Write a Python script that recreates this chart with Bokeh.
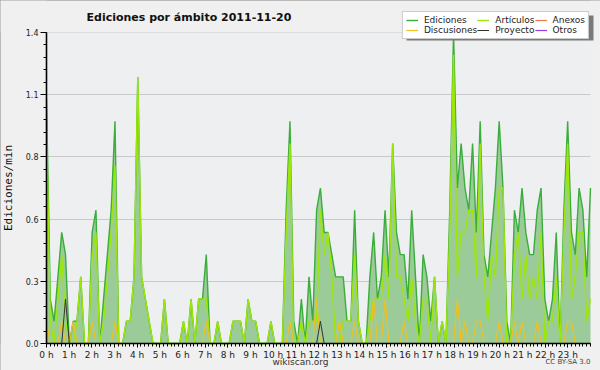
import numpy as np
from bokeh.plotting import figure
from bokeh.models import (FixedTicker, PrintfTickFormatter, Range1d, Legend,
                          LegendItem, Label, BoxAnnotation)
from bokeh.embed import file_html
from bokeh.resources import INLINE

# ---- data: edits per minute, 10-minute bins (6 per hour), 2011-11-20 ----
hour_labels = [f"{h} h" for h in range(24)]

ediciones = [
    1.1, 0.2, 0.1, 0.3, 0.5, 0.4,   # 0 h
    0.0, 0.1, 0.1, 0.3, 0.0, 0.0,   # 1 h
    0.5, 0.6, 0.0, 0.2, 0.4, 0.6,   # 2 h
    1.0, 0.0, 0.0, 0.1, 0.1, 0.3,   # 3 h
    1.2, 0.3, 0.2, 0.1, 0.0, 0.0,   # 4 h
    0.0, 0.2, 0.0, 0.0, 0.0, 0.0,   # 5 h
    0.1, 0.0, 0.2, 0.0, 0.2, 0.2,   # 6 h
    0.4, 0.0, 0.0, 0.1, 0.0, 0.0,   # 7 h
    0.0, 0.1, 0.1, 0.1, 0.0, 0.2,   # 8 h
    0.1, 0.1, 0.0, 0.0, 0.0, 0.1,   # 9 h
    0.0, 0.0, 0.0, 0.6, 1.0, 0.1,   # 10 h
    0.0, 0.2, 0.0, 0.3, 0.1, 0.6,   # 11 h
    0.7, 0.5, 0.5, 0.4, 0.3, 0.3,   # 12 h
    0.3, 0.1, 0.1, 0.6, 0.1, 0.0,   # 13 h
    0.0, 0.3, 0.5, 0.2, 0.3, 0.6,   # 14 h
    0.3, 0.9, 0.5, 0.4, 0.4, 0.2,   # 15 h
    0.6, 0.3, 0.0, 0.4, 0.3, 0.1,   # 16 h
    0.3, 0.0, 0.1, 0.0, 0.6, 1.4,   # 17 h
    0.7, 0.9, 0.7, 0.6, 0.9, 0.5,   # 18 h
    1.0, 0.4, 0.3, 0.5, 0.7, 1.0,   # 19 h
    0.7, 0.1, 0.0, 0.6, 0.5, 0.7,   # 20 h
    0.5, 0.4, 0.4, 0.6, 0.7, 0.2,   # 21 h
    0.1, 0.2, 0.5, 0.0, 0.6, 1.0,   # 22 h
    0.5, 0.4, 0.7, 0.6, 0.3, 0.7,   # 23 h
]

articulos = [
    1.0, 0.1, 0.0, 0.2, 0.4, 0.1,
    0.0, 0.0, 0.1, 0.3, 0.0, 0.0,
    0.4, 0.5, 0.0, 0.1, 0.3, 0.5,
    0.8, 0.0, 0.0, 0.1, 0.1, 0.3,
    1.2, 0.3, 0.2, 0.1, 0.0, 0.0,
    0.0, 0.2, 0.0, 0.0, 0.0, 0.0,
    0.1, 0.0, 0.2, 0.0, 0.2, 0.2,
    0.2, 0.0, 0.0, 0.1, 0.0, 0.0,
    0.0, 0.1, 0.1, 0.1, 0.0, 0.2,
    0.1, 0.1, 0.0, 0.0, 0.0, 0.1,
    0.0, 0.0, 0.0, 0.5, 0.9, 0.0,
    0.0, 0.1, 0.0, 0.1, 0.1, 0.1,
    0.6, 0.4, 0.5, 0.3, 0.0, 0.0,
    0.1, 0.1, 0.1, 0.4, 0.1, 0.0,
    0.0, 0.1, 0.2, 0.2, 0.2, 0.4,
    0.2, 0.9, 0.3, 0.3, 0.2, 0.1,
    0.3, 0.1, 0.0, 0.2, 0.2, 0.0,
    0.3, 0.0, 0.1, 0.0, 0.5, 1.3,
    0.3, 0.5, 0.5, 0.6, 0.6, 0.3,
    0.9, 0.3, 0.1, 0.4, 0.3, 0.7,
    0.7, 0.0, 0.0, 0.4, 0.5, 0.2,
    0.4, 0.2, 0.3, 0.2, 0.5, 0.0,
    0.1, 0.1, 0.3, 0.0, 0.5, 0.9,
    0.2, 0.3, 0.5, 0.5, 0.1, 0.2,
]

discusiones = [
    0.1, 0.0, 0.0, 0.0, 0.1, 0.0,
    0.0, 0.1, 0.0, 0.0, 0.0, 0.0,
    0.1, 0.0, 0.0, 0.0, 0.0, 0.0,
    0.1, 0.0, 0.0, 0.0, 0.0, 0.0,
    0.0, 0.0, 0.0, 0.0, 0.0, 0.0,
    0.0, 0.0, 0.0, 0.0, 0.0, 0.0,
    0.0, 0.0, 0.0, 0.0, 0.0, 0.0,
    0.1, 0.0, 0.0, 0.0, 0.0, 0.0,
    0.0, 0.0, 0.0, 0.0, 0.0, 0.0,
    0.0, 0.0, 0.0, 0.0, 0.0, 0.0,
    0.0, 0.0, 0.0, 0.0, 0.1, 0.0,
    0.0, 0.0, 0.0, 0.0, 0.0, 0.2,
    0.0, 0.0, 0.0, 0.0, 0.0, 0.1,
    0.0, 0.0, 0.0, 0.1, 0.0, 0.0,
    0.0, 0.0, 0.2, 0.0, 0.0, 0.2,
    0.0, 0.0, 0.0, 0.0, 0.1, 0.0,
    0.0, 0.0, 0.0, 0.0, 0.0, 0.0,
    0.0, 0.0, 0.0, 0.0, 0.0, 0.0,
    0.2, 0.0, 0.1, 0.0, 0.0, 0.1,
    0.1, 0.0, 0.0, 0.0, 0.0, 0.1,
    0.0, 0.0, 0.0, 0.1, 0.0, 0.1,
    0.0, 0.0, 0.0, 0.1, 0.0, 0.0,
    0.0, 0.0, 0.0, 0.0, 0.0, 0.1,
    0.1, 0.0, 0.0, 0.0, 0.0, 0.0,
]

proyecto = [
    0.0, 0.0, 0.0, 0.0, 0.0, 0.2,
    0.0, 0.0, 0.0, 0.0, 0.0, 0.0,
    0.0, 0.0, 0.0, 0.0, 0.0, 0.0,
    0.0, 0.0, 0.0, 0.0, 0.0, 0.0,
    0.0, 0.0, 0.0, 0.0, 0.0, 0.0,
    0.0, 0.0, 0.0, 0.0, 0.0, 0.0,
    0.0, 0.0, 0.0, 0.0, 0.0, 0.0,
    0.0, 0.0, 0.0, 0.0, 0.0, 0.0,
    0.0, 0.0, 0.0, 0.0, 0.0, 0.0,
    0.0, 0.0, 0.0, 0.0, 0.0, 0.0,
    0.0, 0.0, 0.0, 0.0, 0.0, 0.0,
    0.0, 0.0, 0.0, 0.0, 0.0, 0.0,
    0.1, 0.0, 0.0, 0.0, 0.0, 0.0,
    0.0, 0.0, 0.0, 0.0, 0.0, 0.0,
    0.0, 0.0, 0.0, 0.0, 0.0, 0.0,
    0.0, 0.0, 0.0, 0.0, 0.0, 0.0,
    0.0, 0.0, 0.0, 0.0, 0.0, 0.0,
    0.0, 0.0, 0.0, 0.0, 0.0, 0.0,
    0.0, 0.0, 0.0, 0.0, 0.0, 0.0,
    0.0, 0.0, 0.0, 0.0, 0.0, 0.0,
    0.0, 0.0, 0.0, 0.0, 0.0, 0.0,
    0.0, 0.0, 0.0, 0.0, 0.0, 0.0,
    0.0, 0.0, 0.0, 0.0, 0.0, 0.0,
    0.0, 0.0, 0.0, 0.0, 0.0, 0.0,
]

anexos = [0.0] * len(ediciones)   # nothing visible in the reference
otros = [0.0] * len(ediciones)

# sample positions (hours) spread over the whole day axis
xs = np.linspace(0, 24, len(ediciones))

Y_MAX = 1.4

# ---- page geometry (the frame covers the whole canvas; axes are pinned) ----
W, H = 600, 370
AX_L, AX_R = 46, 590       # pixel x of 0 h and 24 h
AX_T, AX_B = 32, 343       # pixel y of Y_MAX and 0
XS = (AX_R - AX_L) / 24.0
YS = (AX_B - AX_T) / Y_MAX
X_LO, X_HI = -AX_L / XS, 24 + (W - AX_R) / XS
Y_LO, Y_HI = -(H - AX_B) / YS, Y_MAX + AX_T / YS


def px_x(px):
    return X_LO + px / XS


def px_y(py):
    return Y_HI - py / YS


# ---- colours ----
BG_OUT = "#f0f0f0"
BG_PLOT = "#eeeff1"
C_ED_FILL = "#9ccb9a"
C_ED_LINE = "#3aad3a"
C_ART = "#9de60a"
C_DISC = "#f0c020"
C_PROJ = "#333333"
C_ANEX = "#f07850"
C_OTROS = "#9040e0"

p = figure(width=W, height=H, output_backend="svg", toolbar_location=None,
           title=None, x_range=Range1d(X_LO, X_HI), y_range=Range1d(Y_LO, Y_HI),
           min_border=0, background_fill_color=BG_PLOT, border_fill_color=BG_OUT)
p.outline_line_color = "#a8a8a8"
p.outline_line_width = 2

# grid
p.xgrid.grid_line_color = None
p.ygrid.grid_line_color = "#c9c9c9"
p.ygrid.grid_line_width = 1

# axes
p.yaxis.ticker = FixedTicker(ticks=[Y_MAX * k / 5 for k in range(6)],
                             minor_ticks=[Y_MAX * k / 25 for k in range(26)])
p.yaxis.formatter = PrintfTickFormatter(format="%.1f")
p.xaxis.ticker = FixedTicker(ticks=list(range(24)),
                             minor_ticks=[k / 6 for k in range(24 * 6 + 1)])
p.xaxis.major_label_overrides = {h: hour_labels[h] for h in range(24)}
p.xaxis.fixed_location = 0
p.yaxis.fixed_location = 0
p.xaxis.bounds = (0, 24)
p.yaxis.bounds = (0, Y_MAX)

for ax in (p.xaxis[0], p.yaxis[0]):
    ax.axis_line_color = "black"
    ax.axis_line_width = 1.6
    ax.major_tick_line_color = "black"
    ax.minor_tick_line_color = "black"
    ax.major_tick_in = 0
    ax.minor_tick_in = 0
    ax.major_label_text_font = "DejaVu Sans"
    ax.major_label_text_color = "#222222"
    ax.major_label_standoff = 2

p.yaxis.major_tick_out = 6
p.yaxis.minor_tick_out = 3
p.yaxis.major_label_text_font_size = "8px"
p.yaxis.axis_label = "Ediciones/min"
p.yaxis.axis_label_text_font = "DejaVu Sans Mono"
p.yaxis.axis_label_text_font_size = "11px"
p.yaxis.axis_label_text_font_style = "normal"
p.yaxis.axis_label_text_color = "#111111"
p.yaxis.axis_label_standoff = 8

p.xaxis.major_tick_out = 4
p.xaxis.minor_tick_out = 3
p.xaxis.major_label_text_font_size = "9px"

# outer (non-plot) bands painted over the plot background
for kw in (dict(right=0), dict(left=24), dict(bottom=Y_MAX), dict(top=0)):
    p.add_layout(BoxAnnotation(fill_color=BG_OUT, fill_alpha=1.0, line_color=None,
                               level="underlay", **kw))

# ---- series ----
r_anex = p.line(xs, anexos, line_color=C_ANEX, line_width=1.2)
r_otros = p.line(xs, otros, line_color=C_OTROS, line_width=1.2)
p.varea(x=xs, y1=0, y2=ediciones, fill_color=C_ED_FILL, fill_alpha=1.0)
r_ed = p.line(xs, ediciones, line_color=C_ED_LINE, line_width=1.4)
r_art = p.line(xs, articulos, line_color=C_ART, line_width=1.4)
r_disc = p.line(xs, discusiones, line_color=C_DISC, line_width=1.2)
r_proj = p.line(xs, proyecto, line_color=C_PROJ, line_width=1.0)

# title
p.add_layout(Label(x=86, y=H - 17, x_units="screen", y_units="screen",
                   text="Ediciones por ámbito  2011-11-20", text_align="left",
                   text_baseline="middle", text_font="DejaVu Sans",
                   text_font_size="11px", text_font_style="bold",
                   text_color="#111111"))

# legend shadow + legend (top right)
p.add_layout(BoxAnnotation(left=px_x(406), right=px_x(593), top=px_y(15), bottom=px_y(40),
                           fill_color="#7a7a7a", fill_alpha=1.0, line_color=None))

legend = Legend(items=[
    LegendItem(label="Ediciones", renderers=[r_ed]),
    LegendItem(label="Artículos", renderers=[r_art]),
    LegendItem(label="Anexos", renderers=[r_anex]),
    LegendItem(label="Discusiones", renderers=[r_disc]),
    LegendItem(label="Proyecto", renderers=[r_proj]),
    LegendItem(label="Otros", renderers=[r_otros]),
], orientation="horizontal", ncols=3, location="top_right")
legend.label_text_font = "DejaVu Sans"
legend.label_text_font_size = "9px"
legend.label_text_color = "#222222"
legend.label_height = 8
legend.glyph_height = 8
legend.glyph_width = 12
legend.label_standoff = 6
legend.spacing = 0
legend.padding = 3
legend.margin = 11
legend.border_line_color = "#9a9a9a"
legend.background_fill_color = "white"
legend.background_fill_alpha = 1.0
p.add_layout(legend, "center")

# footer texts
p.add_layout(Label(x=300, y=H - 361, x_units="screen", y_units="screen",
                   text="wikiscan.org", text_align="center", text_baseline="middle",
                   text_font="DejaVu Sans", text_font_size="9px", text_color="#333333"))
p.add_layout(Label(x=590, y=H - 361, x_units="screen", y_units="screen",
                   text="CC BY-SA 3.0", text_align="right", text_baseline="middle",
                   text_font="DejaVu Sans", text_font_size="7px", text_color="#444444"))

open("out.html", "w").write(file_html(p, INLINE))
